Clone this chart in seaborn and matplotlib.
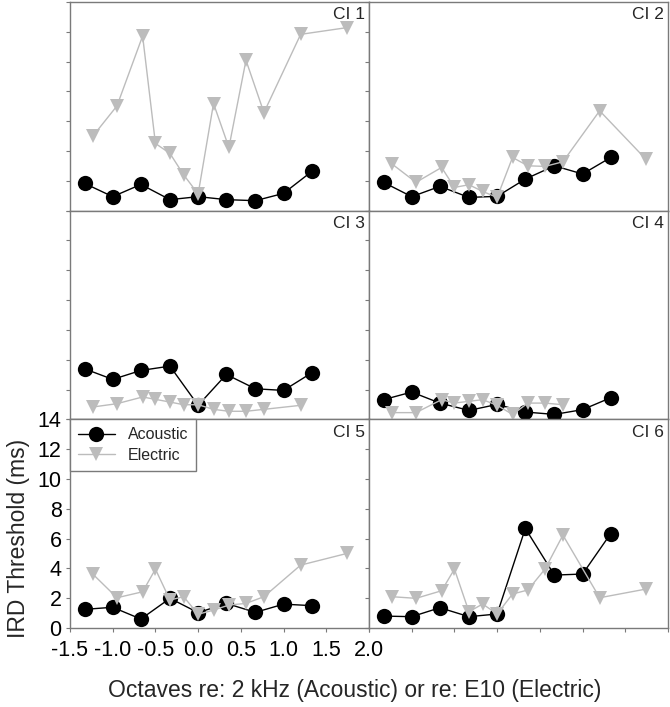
import numpy as np
import pandas as pd
import matplotlib
matplotlib.use("Agg")
import matplotlib.pyplot as plt
import seaborn as sns


# Data (IRD thresholds in ms)

# acoustic: third-octave steps re 2 kHz, electric: electrode positions re E10
acoustic_x = [-1.33, -1.0, -0.67, -0.33, 0.0, 0.33, 0.67, 1.0, 1.33]
electric_x = [-1.23, -0.95, -0.65, -0.5, -0.33, -0.17, 0.0, 0.18, 0.36, 0.56, 0.77, 1.2, 1.74]

ci_names = ["CI 1", "CI 2", "CI 3", "CI 4", "CI 5", "CI 6"]

ci1_acoustic = [1.83, 0.94, 1.76, 0.74, 0.94, 0.74, 0.67, 1.16, 2.63]
ci1_electric = [5.02, 7.03, 11.72, 4.51, 3.84, 2.41, 1.12, 7.19, 4.24, 10.09, 6.58, 11.83, 12.28]
ci2_acoustic = [1.9, 0.94, 1.63, 0.89, 0.96, 2.12, 3.01, 2.46, 3.57]
ci2_electric = [3.13, 1.9, 2.9, 1.56, 1.74, 1.29, 0.89, 3.57, 3.01, 2.97, 3.28, 6.7, 3.46]
ci3_acoustic = [3.39, 2.68, 3.28, 3.57, 0.94, 3.01, 2.05, 1.94, 3.12]
ci3_electric = [0.83, 1.05, 1.5, 1.34, 1.16, 0.98, 0.98, 0.67, 0.54, 0.54, 0.67, 0.94, np.nan]
ci4_acoustic = [1.32, 1.83, 1.09, 0.6, 1.0, 0.49, 0.33, 0.65, 1.45]
ci4_electric = [0.45, 0.45, 1.32, 1.09, 1.21, 1.32, 0.94, 0.33, 1.09, 1.09, 0.98, np.nan, np.nan]
ci5_acoustic = [1.25, 1.39, 0.6, 1.99, 1.03, 1.65, 1.05, 1.6, 1.5]
ci5_electric = [3.6, 2.03, 2.43, 3.95, 1.88, 2.1, 0.92, 1.2, 1.54, 1.65, 2.1, 4.22, 5.0]
ci6_acoustic = [0.8, 0.76, 1.36, 0.76, 0.94, 6.68, 3.55, 3.62, 6.34]
ci6_electric = [2.1, 1.99, 2.5, 3.95, 1.09, 1.61, 0.94, 2.28, 2.55, 3.95, 6.23, 2.03, 2.61]

acoustic_vals = [ci1_acoustic, ci2_acoustic, ci3_acoustic, ci4_acoustic, ci5_acoustic, ci6_acoustic]
electric_vals = [ci1_electric, ci2_electric, ci3_electric, ci4_electric, ci5_electric, ci6_electric]

x_ticks = [-1.5, -1.0, -0.5, 0.0, 0.5, 1.0, 1.5, 2.0]
y_ticks = [0, 2, 4, 6, 8, 10, 12, 14]


# Long table for seaborn
rows = []
for name, ac, el in zip(ci_names, acoustic_vals, electric_vals):
    for x, y in zip(acoustic_x, ac):
        rows.append((name, "Acoustic", x, y))
    for x, y in zip(electric_x, el):
        rows.append((name, "Electric", x, y))
df = pd.DataFrame(rows, columns=["ci", "type", "octave", "ird"]).dropna()


sns.set_style("ticks")
plt.rcParams["font.family"] = ["Liberation Sans", "DejaVu Sans"]
plt.rcParams["axes.unicode_minus"] = False

frame_col = "#7a7a7a"
gray = "#bcbcbc"

fig, axes = plt.subplots(3, 2, figsize=(6.7, 7.07), dpi=100, sharex=True, sharey=True)
fig.subplots_adjust(left=70 / 670, right=668 / 670, bottom=1 - 628 / 707,
                    top=1 - 2 / 707, wspace=0, hspace=0)

for i, (ax, name) in enumerate(zip(axes.flat, ci_names)):
    sub = df[df["ci"] == name]
    ac = sub[sub["type"] == "Acoustic"]
    el = sub[sub["type"] == "Electric"]

    sns.lineplot(data=ac, x="octave", y="ird", color="black", marker="o",
                 markersize=11, mew=0, lw=1.0, estimator=None, errorbar=None,
                 label="Acoustic", legend=False, ax=ax, zorder=3)
    sns.lineplot(data=el, x="octave", y="ird", color=gray, marker="v",
                 markersize=10.5, mew=0, lw=1.0, estimator=None, errorbar=None,
                 label="Electric", legend=False, ax=ax, zorder=4)

    ax.set_xlim(-1.5, 2.0)
    ax.set_ylim(0, 14)
    ax.set_xticks(x_ticks)
    ax.set_yticks(y_ticks)
    ax.set_xlabel("")
    ax.set_ylabel("")

    for sp in ax.spines.values():
        sp.set_color(frame_col)
        sp.set_linewidth(1.0)
    ax.tick_params(colors=frame_col, labelcolor="black", length=3, width=0.8,
                   labelsize=15.5)
    ax.tick_params(axis="y", pad=3)
    ax.tick_params(axis="x", pad=6)

    row, col = divmod(i, 2)
    if row < 2:
        ax.tick_params(axis="x", length=0)
    if not (row == 2 and col == 0):
        ax.tick_params(labelleft=False, labelbottom=False)

    ax.text(0.985, 0.975, name, transform=ax.transAxes, ha="right", va="top",
            fontsize=12.5)

# legend only on CI 5
leg = axes[2, 0].legend(loc="upper left", borderaxespad=0, fontsize=11.5,
                        frameon=True, fancybox=False, framealpha=1,
                        handlelength=2.3, borderpad=0.5, labelspacing=0.35)
leg.get_frame().set_edgecolor(frame_col)
leg.get_frame().set_linewidth(1.0)

fig.text(355 / 670, 1 - 690 / 707, "Octaves re: 2 kHz (Acoustic) or re: E10 (Electric)",
         ha="center", va="center", fontsize=16.5)
fig.text(19 / 670, 1 - 538 / 707, "IRD Threshold (ms)", rotation=90,
         ha="center", va="center", fontsize=16.5)

plt.savefig("out.png", dpi=100)
plt.close()
